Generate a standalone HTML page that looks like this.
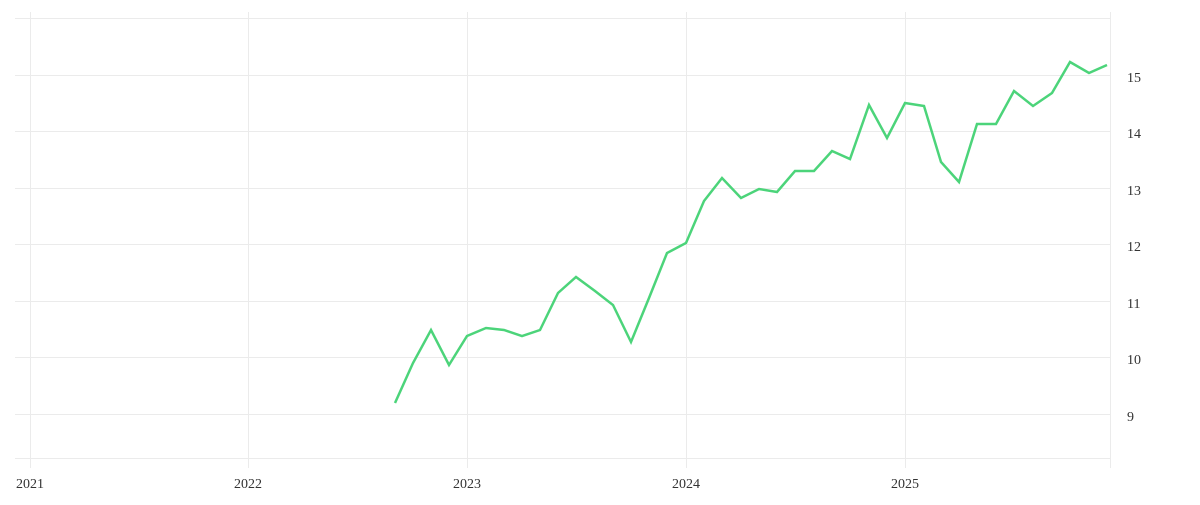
<!DOCTYPE html>
<html><head><style>
body{margin:0;background:#fff;}
svg text{font-family:"Liberation Serif",serif;font-size:14px;fill:#333;}
</style></head><body>
<svg width="1200" height="500" xmlns="http://www.w3.org/2000/svg">
<g stroke="#ebebeb" stroke-width="1">
<line x1="15" x2="1110" y1="18.5" y2="18.5"/>
<line x1="15" x2="1110" y1="75.5" y2="75.5"/>
<line x1="15" x2="1110" y1="131.5" y2="131.5"/>
<line x1="15" x2="1110" y1="188.5" y2="188.5"/>
<line x1="15" x2="1110" y1="244.5" y2="244.5"/>
<line x1="15" x2="1110" y1="301.5" y2="301.5"/>
<line x1="15" x2="1110" y1="357.5" y2="357.5"/>
<line x1="15" x2="1110" y1="414.5" y2="414.5"/>
<line x1="15" x2="1110" y1="458.5" y2="458.5"/>
<line x1="30.5" x2="30.5" y1="12" y2="468"/>
<line x1="248.5" x2="248.5" y1="12" y2="468"/>
<line x1="467.5" x2="467.5" y1="12" y2="468"/>
<line x1="686.5" x2="686.5" y1="12" y2="468"/>
<line x1="905.5" x2="905.5" y1="12" y2="468"/>
<line x1="1110.5" x2="1110.5" y1="12" y2="468"/>
</g>
<polyline fill="none" stroke="#4cd47a" stroke-width="2.5" stroke-linejoin="miter" points="395,403 413,363 431,330 449,365 467,336 486,328 504,330 522,336 540,330 558,293 576,277 595,291 613,305 631,342 649,298 667,253 686,243 704,201 722,178 741,198 759,189 777,192 795,171 814,171 832,151 850,159 869,105 887,138 905,103 924,106 941,162 959,182 977,124 996,124 1014,91 1033,106 1052,93 1070,62 1089,73 1107,65"/>
<g>
<text x="1127" y="82">15</text>
<text x="1127" y="138">14</text>
<text x="1127" y="195">13</text>
<text x="1127" y="251">12</text>
<text x="1127" y="308">11</text>
<text x="1127" y="364">10</text>
<text x="1127" y="421">9</text>
</g>
<g text-anchor="middle">
<text x="30" y="488">2021</text>
<text x="248" y="488">2022</text>
<text x="467" y="488">2023</text>
<text x="686" y="488">2024</text>
<text x="905" y="488">2025</text>
</g>
</svg>
</body></html>
